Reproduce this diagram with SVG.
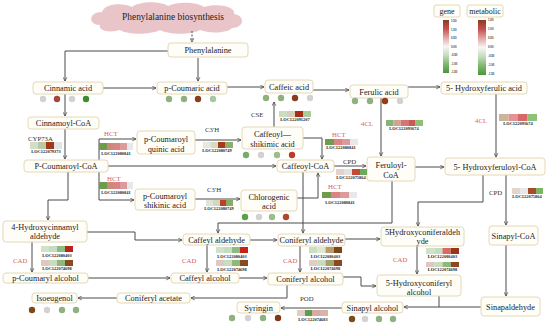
<svg xmlns="http://www.w3.org/2000/svg" width="550" height="325" viewBox="0 0 550 325">
<style>
.bx{fill:#fffdf7;stroke:#e4d8b6;stroke-width:1}
.n{font-family:"Liberation Serif","DejaVu Serif",serif;font-size:8.3px;fill:#222;text-anchor:middle}
.e{font-family:"Liberation Serif","DejaVu Serif",serif;font-size:6.8px;fill:#333}
.r{fill:#dd5c5c}
.loc{font-family:"Liberation Serif","DejaVu Serif",serif;font-size:4.4px;font-weight:bold;fill:#222;text-anchor:middle}
.tk{font-family:"Liberation Sans","DejaVu Sans",sans-serif;font-size:2.8px;font-weight:bold;fill:#333}
.c path{fill:none;stroke:#4a4a4a;stroke-width:1;marker-end:url(#ah)}
.c path.nm{marker-end:none}
.g{fill:#d2d2d2}.gg{fill:#8fb080}.gr{fill:#4f9a3e}.br{fill:#8b3c1a}.rd{fill:#bf3a26}
</style>
<defs>
<marker id="ah" viewBox="0 0 8 8" refX="7" refY="4" markerWidth="5" markerHeight="5" markerUnits="userSpaceOnUse" orient="auto">
<path d="M1,1 L7,4 L1,7" fill="none" stroke="#4a4a4a" stroke-width="1.2"/>
</marker>
<linearGradient id="lg" x1="0" y1="0" x2="0" y2="1">
<stop offset="0" stop-color="#8a3c1e"/>
<stop offset="0.17" stop-color="#c85050"/>
<stop offset="0.33" stop-color="#e4a4a4"/>
<stop offset="0.5" stop-color="#f6f6f6"/>
<stop offset="0.67" stop-color="#c2dcbc"/>
<stop offset="0.83" stop-color="#80b870"/>
<stop offset="1" stop-color="#4a963a"/>
</linearGradient>
</defs>
<rect width="550" height="325" fill="#ffffff"/>

<!-- cloud -->
<g id="phe-biosynthesis">
<path d="M100,25 C88,25 88,12 102,12 C104,4 122,2 132,7 C140,1 160,1 168,6 C178,1 198,2 204,7 C216,3 236,6 234,14 C246,16 244,28 232,28 C228,33 210,34 200,30 C190,35 170,35 160,30 C150,35 128,35 120,30 C110,33 98,31 100,25 Z" fill="#e9c5c9"/>
<text x="173" y="20" class="n" style="font-size:9.4px">Phenylalanine biosynthesis</text>
</g>

<!-- connectors -->
<g id="connectors" class="c">
<path d="M192,31 L192,42" stroke-dasharray="2,1.5"/>
<path d="M168,51 L65,51 L65,81"/>
<path d="M198,58 L198,81"/>
<path d="M103,88 L156,88"/>
<path d="M227,87 L264,87"/>
<path d="M313,90 L349,90"/>
<path d="M408,87 L440,87"/>
<path d="M65,94 L65,116"/>
<path d="M65,129 L65,159"/>
<path d="M99,160 L99,139 L136,139"/>
<path d="M99,172 L99,200 L134,200"/>
<path d="M108,166 L276,166"/>
<path d="M195,140 L241,140"/>
<path d="M195,199 L240,199"/>
<path d="M274,127 L274,102"/>
<path d="M303,138 L322,138 L322,159"/>
<path d="M297,198 L318,198 L318,173"/>
<path d="M334,166 L366,166"/>
<path d="M381,98 L381,156"/>
<path d="M415,167 L444,167"/>
<path d="M496,94 L496,157"/>
<path d="M506,175 L506,225"/>
<path d="M483,175 L483,202 L418,202 L418,226"/>
<path d="M392,181 L392,223 L218,223 L218,233"/>
<path d="M303,172 L303,233"/>
<path d="M68,172 L68,200 L48,200 L48,220"/>
<path d="M87,232 L135,232 L135,240 L182,240"/>
<path d="M250,240 L277,240"/>
<path d="M345,239 L380,239"/>
<path d="M32,242 L32,272"/>
<path d="M207,245 L207,272"/>
<path d="M300,246 L300,272"/>
<path d="M417,246 L417,274"/>
<path d="M88,278 L170,278"/>
<path d="M239,278 L267,278"/>
<path d="M343,277 L361,277 L361,286 L376,286"/>
<path d="M287,285 L287,298 L191,298"/>
<path d="M117,298 L78,298"/>
<path d="M506,245 L506,296"/>
<path d="M481,307 L404,307"/>
<path class="nm" d="M439,296 L439,307"/>
<path d="M342,308 L281,308"/>
</g>

<!-- legend -->
<g id="legend-gene">
<rect class="bx" x="434" y="5" width="26" height="12" rx="2"/>
<text x="447" y="14" class="n" style="font-size:8px">gene</text>
<rect x="443" y="20" width="6" height="53" fill="url(#lg)"/>
<g class="tk"><text x="451" y="22">1.50</text><text x="451" y="30.5">1.00</text><text x="451" y="39">0.50</text><text x="451" y="47.5">0.00</text><text x="451" y="56">-0.50</text><text x="451" y="64.5">-1.00</text><text x="451" y="73">-1.50</text></g>
</g>
<g id="legend-metabolic">
<rect class="bx" x="467" y="5" width="36" height="12" rx="2"/>
<text x="485" y="14" class="n" style="font-size:8px">metabolic</text>
<rect x="478" y="20" width="8" height="55" fill="url(#lg)"/>
<g class="tk"><text x="488" y="21">1.50</text><text x="488" y="30">1.00</text><text x="488" y="39">0.50</text><text x="488" y="48">0.00</text><text x="488" y="57">-0.50</text><text x="488" y="66">-1.00</text><text x="488" y="75">-1.50</text></g>
</g>

<!-- nodes -->
<g id="phenylalanine"><rect class="bx" x="168" y="43" width="80" height="14" rx="3"/><text class="n" x="208" y="53">Phenylalanine</text></g>
<g id="cinnamic-acid"><rect class="bx" x="33" y="82" width="70" height="12" rx="3"/><text class="n" x="68" y="91">Cinnamic acid</text>
<circle class="g" cx="43" cy="99" r="3.2"/><circle cx="57" cy="99" r="3.2" fill="#a5473a"/><circle class="g" cx="72" cy="99" r="3.2"/><circle cx="86" cy="99" r="3.2" fill="#3c8c2c"/></g>
<g id="p-coumaric-acid"><rect class="bx" x="157" y="82" width="70" height="12" rx="3"/><text class="n" x="192" y="91">p-Coumaric acid</text>
<circle class="gg" cx="169" cy="99" r="3.2"/><circle class="gg" cx="184" cy="99" r="3.2"/><circle class="br" cx="198" cy="99" r="3.2"/><circle cx="213" cy="99" r="3.2" fill="#a8c8a0"/></g>
<g id="caffeic-acid"><rect class="bx" x="265" y="80" width="48" height="13" rx="3"/><text class="n" x="289" y="89.5">Caffeic acid</text>
<circle class="gg" cx="266" cy="98" r="3.2"/><circle class="gg" cx="281" cy="98" r="3.2"/><circle class="br" cx="295" cy="98" r="3.2"/><circle class="g" cx="310" cy="98" r="3.2"/></g>
<g id="ferulic-acid"><rect class="bx" x="350" y="85" width="58" height="13" rx="3"/><text class="n" x="379" y="94.5">Ferulic acid</text>
<circle class="gg" cx="355" cy="101" r="3.2"/><circle class="gg" cx="370" cy="101" r="3.2"/><circle cx="385" cy="101" r="3.2" fill="#963a1a"/><circle class="g" cx="400" cy="101" r="3.2"/></g>
<g id="hydroxyferulic-acid"><rect class="bx" x="441" y="82" width="86" height="12" rx="3"/><text class="n" x="484" y="91">5- Hydroxyferulic acid</text></g>
<g id="cinnamoyl-coa"><rect class="bx" x="28" y="117" width="71" height="12" rx="3"/><text class="n" x="63.5" y="126">Cinnamoyl-CoA</text></g>
<g id="p-coumaroyl-coa"><rect class="bx" x="24" y="160" width="84" height="12" rx="3"/><text class="n" x="66" y="169">P-Coumaroyl-CoA</text></g>
<g id="p-coumaroyl-quinic-acid"><rect class="bx" x="137" y="131" width="58" height="23" rx="3"/><text class="n" x="166" y="141.5">p-Coumaroyl</text><text class="n" x="166" y="151.5">quinic acid</text></g>
<g id="caffeoyl-shikimic-acid"><rect class="bx" x="242" y="127" width="61" height="22" rx="3"/><text class="n" x="272.5" y="136.5">Caffeoyl—</text><text class="n" x="272.5" y="147">shikimic acid</text>
<circle cx="246" cy="155" r="3.2" fill="#7aaa6a"/><circle class="g" cx="261" cy="155" r="3.2"/><circle cx="277" cy="155" r="3.2" fill="#9cbc8c"/><circle class="rd" cx="292" cy="155" r="3.2"/></g>
<g id="caffeoyl-coa"><rect class="bx" x="277" y="160" width="57" height="12" rx="3"/><text class="n" x="305.5" y="169">Caffeoyl-CoA</text></g>
<g id="feruloyl-coa"><rect class="bx" x="367" y="157" width="48" height="24" rx="3"/><text class="n" x="391" y="167.5">Feruloyl-</text><text class="n" x="391" y="178">CoA</text></g>
<g id="hydroxyferuloyl-coa"><rect class="bx" x="445" y="158" width="100" height="17" rx="3"/><text class="n" x="495" y="169.5">5- Hydroxyferuloyl-CoA</text></g>
<g id="p-coumaroyl-shikinic-acid"><rect class="bx" x="135" y="189" width="60" height="21" rx="3"/><text class="n" x="165" y="198.5">p-Coumaroyl</text><text class="n" x="165" y="207.5">shikinic acid</text></g>
<g id="chlorogenic-acid"><rect class="bx" x="241" y="190" width="56" height="21" rx="3"/><text class="n" x="269" y="199.5">Chlorogenic</text><text class="n" x="269" y="209">acid</text>
<circle cx="245" cy="217" r="3.2" fill="#5aa04a"/><circle class="g" cx="259" cy="217" r="3.2"/><circle cx="272" cy="217" r="3.2" fill="#9cbc8c"/><circle cx="286" cy="217" r="3.2" fill="#b04828"/></g>
<g id="hydroxycinnamyl-aldehyde"><rect class="bx" x="3" y="221" width="84" height="21" rx="3"/><text class="n" x="45" y="230">4-Hydroxycinnamyl</text><text class="n" x="45" y="239">aldehyde</text></g>
<g id="caffeyl-aldehyde"><rect class="bx" x="183" y="234" width="67" height="11" rx="3"/><text class="n" x="216.5" y="242.5">Caffeyl aldehyde</text></g>
<g id="coniferyl-aldehyde"><rect class="bx" x="278" y="234" width="67" height="12" rx="3"/><text class="n" x="311.5" y="243">Coniferyl aldehyde</text></g>
<g id="hydroxyconiferaldehyde"><rect class="bx" x="381" y="227" width="83" height="19" rx="3"/><text class="n" x="422.5" y="234.5">5Hydroxyconiferaldeh</text><text class="n" x="422.5" y="244">yde</text></g>
<g id="sinapyl-coa"><rect class="bx" x="489" y="226" width="49" height="19" rx="3"/><text class="n" x="513.5" y="238.5">Sinapyl-CoA</text></g>
<g id="p-coumaryl-alcohol"><rect class="bx" x="3" y="273" width="85" height="10" rx="3"/><text class="n" x="45.5" y="281">p-Coumaryl alcohol</text></g>
<g id="caffeyl-alcohol"><rect class="bx" x="171" y="273" width="68" height="10" rx="3"/><text class="n" x="205" y="281">Caffeyl alcohol</text></g>
<g id="coniferyl-alcohol"><rect class="bx" x="268" y="273" width="75" height="12" rx="3"/><text class="n" x="305.5" y="282">Coniferyl alcohol</text></g>
<g id="hydroxyconiferyl-alcohol"><rect class="bx" x="377" y="275" width="84" height="21" rx="3"/><text class="n" x="419" y="285.5">5-Hydroxyconiferyl</text><text class="n" x="419" y="294.5">alcohol</text></g>
<g id="isoeugenol"><rect class="bx" x="32" y="293" width="45" height="10" rx="3"/><text class="n" x="54.5" y="301">Isoeugenol</text>
<circle cx="32" cy="310" r="3.2" fill="#7a4a1a"/><circle class="g" cx="47" cy="310" r="3.2"/><circle class="gg" cx="62" cy="310" r="3.2"/><circle class="gg" cx="76" cy="310" r="3.2"/></g>
<g id="coniferyl-acetate"><rect class="bx" x="117" y="293" width="73" height="10" rx="3"/><text class="n" x="153.5" y="301">Coniferyl acetate</text></g>
<g id="syringin"><rect class="bx" x="237" y="302" width="43" height="11" rx="3"/><text class="n" x="258.5" y="310.5">Syringin</text>
<circle class="gg" cx="232" cy="318" r="3.2"/><circle class="g" cx="248" cy="318" r="3.2"/><circle class="gg" cx="263" cy="318" r="3.2"/><circle cx="278" cy="318" r="3.2" fill="#7a3a12"/></g>
<g id="sinapyl-alcohol"><rect class="bx" x="342" y="302" width="61" height="11" rx="3"/><text class="n" x="372.5" y="310.5">Sinapyl alcohol</text>
<circle cx="352" cy="319" r="3.2" fill="#7a4a1a"/><circle class="g" cx="365" cy="319" r="3.2"/><circle class="gg" cx="379" cy="319" r="3.2"/><circle class="gg" cx="393" cy="319" r="3.2"/></g>
<g id="sinapaldehyde"><rect class="bx" x="481" y="297" width="59" height="19" rx="3"/><text class="n" x="510.5" y="309.5">Sinapaldehyde</text></g>

<!-- enzymes -->
<g id="enz-cyp73a"><text class="e" x="28" y="140.5">CYP73A</text>
<rect x="30" y="142" width="8" height="7" fill="#cfe0c8"/><rect x="38" y="142" width="8" height="7" fill="#b9c9a5"/><rect x="46" y="142" width="8" height="7" fill="#a2381a"/><rect x="54" y="142" width="8" height="7" fill="#e3e3e3"/>
<text class="loc" x="46" y="153">LOC122079373</text></g>
<g id="enz-hct-1"><text class="e r" x="104" y="135.5">HCT</text>
<rect x="99" y="143" width="8" height="7" fill="#6e9c4c"/><rect x="107" y="143" width="6" height="7" fill="#c98a7a"/><rect x="113" y="143" width="7" height="7" fill="#d98585"/><rect x="120" y="143" width="7" height="7" fill="#dc9a9a"/><rect x="127" y="143" width="6" height="7" fill="#e8e8e8"/>
<text class="loc" x="116" y="155">LOC122080841</text></g>
<g id="enz-hct-2"><text class="e r" x="107" y="180.5">HCT</text>
<rect x="99" y="182" width="8" height="7" fill="#6e9c4c"/><rect x="107" y="182" width="6" height="7" fill="#c98a7a"/><rect x="113" y="182" width="7" height="7" fill="#d98585"/><rect x="120" y="182" width="7" height="7" fill="#dc9a9a"/><rect x="127" y="182" width="6" height="7" fill="#e8e8e8"/>
<text class="loc" x="116" y="194">LOC122080841</text></g>
<g id="enz-c3h-1"><text class="e" x="205" y="131.5">C3'H</text>
<rect x="203" y="142" width="8" height="6" fill="#e6e8de"/><rect x="211" y="142" width="7" height="6" fill="#d4dcc4"/><rect x="218" y="142" width="7" height="6" fill="#a83a1c"/><rect x="225" y="142" width="8" height="6" fill="#8fae6a"/>
<text class="loc" x="217" y="151.5">LOC122080749</text></g>
<g id="enz-c3h-2"><text class="e" x="207" y="191.5">C3'H</text>
<rect x="206" y="200" width="7" height="6" fill="#e0e4d8"/><rect x="213" y="200" width="7" height="6" fill="#d0d8c0"/><rect x="220" y="200" width="6" height="6" fill="#b8402a"/><rect x="226" y="200" width="7" height="6" fill="#8aaa60"/>
<text class="loc" x="219" y="209.5">LOC122080749</text></g>
<g id="enz-cse"><text class="e" x="251" y="117">CSE</text>
<rect x="279" y="111" width="8" height="6" fill="#cbdcc0"/><rect x="287" y="111" width="8" height="6" fill="#d8cdb8"/><rect x="295" y="111" width="8" height="6" fill="#a82c12"/><rect x="303" y="111" width="8" height="6" fill="#a9cc98"/>
<text class="loc" x="295" y="121">LOC122091207</text></g>
<g id="enz-hct-3"><text class="e r" x="332" y="136.5">HCT</text>
<rect x="325" y="139" width="9" height="6" fill="#6e9c4c"/><rect x="334" y="139" width="8" height="6" fill="#d98585"/><rect x="342" y="139" width="8" height="6" fill="#dc9a9a"/><rect x="350" y="139" width="8" height="6" fill="#e8e8e8"/>
<text class="loc" x="341" y="149">LOC122080841</text></g>
<g id="enz-cpd-1"><text class="e" x="343" y="163.5">CPD</text>
<rect x="336" y="169" width="8" height="6" fill="#e6d0cc"/><rect x="344" y="169" width="8" height="6" fill="#e2e2e2"/><rect x="352" y="169" width="8" height="6" fill="#c44a3a"/><rect x="360" y="169" width="7" height="6" fill="#6fa85a"/>
<text class="loc" x="351" y="179">LOC122075864</text></g>
<g id="enz-hct-4"><text class="e r" x="328" y="188.5">HCT</text>
<rect x="322" y="192" width="9" height="6" fill="#6e9c4c"/><rect x="331" y="192" width="9" height="6" fill="#d98585"/><rect x="340" y="192" width="9" height="6" fill="#dc9a9a"/><rect x="349" y="192" width="8" height="6" fill="#e8e8e8"/>
<text class="loc" x="340" y="203.5">LOC122080841</text></g>
<g id="enz-4cl-1"><text class="e r" x="361" y="125.5">4CL</text>
<rect x="386" y="120" width="7.4" height="6" fill="#85b573"/><rect x="393.4" y="120" width="7.4" height="6" fill="#cfa58f"/><rect x="400.8" y="120" width="7.4" height="6" fill="#d77575"/><rect x="408.2" y="120" width="7.4" height="6" fill="#c65a55"/><rect x="415.6" y="120" width="7.4" height="6" fill="#8cc075"/>
<text class="loc" x="404" y="130">LOC122093674</text></g>
<g id="enz-4cl-2"><text class="e r" x="475" y="122.5">4CL</text>
<rect x="499" y="114" width="9.5" height="7" fill="#c9b59a"/><rect x="508.5" y="114" width="9.5" height="7" fill="#e39393"/><rect x="518" y="114" width="9.5" height="7" fill="#d86868"/><rect x="527.5" y="114" width="9.5" height="7" fill="#90c07a"/>
<text class="loc" x="518" y="125">LOC122093674</text></g>
<g id="enz-cpd-2"><text class="e" x="489" y="194.5">CPD</text>
<rect x="512" y="188" width="8" height="6" fill="#e4d4cc"/><rect x="520" y="188" width="8" height="6" fill="#e8e8e8"/><rect x="528" y="188" width="8" height="6" fill="#a84a2e"/><rect x="536" y="188" width="7" height="6" fill="#7ab465"/>
<text class="loc" x="527" y="198">LOC122075864</text></g>
<g id="enz-cad-1"><text class="e r" x="13" y="262.5">CAD</text>
<rect x="41" y="246" width="8" height="6" fill="#d0e2c8"/><rect x="49" y="246" width="8" height="6" fill="#c4dcc0"/><rect x="57" y="246" width="8" height="6" fill="#8cbc80"/><rect x="65" y="246" width="8" height="6" fill="#b82418"/>
<text class="loc" x="57" y="257">LOC122080403</text>
<rect x="41" y="260" width="8" height="6" fill="#e0c8c0"/><rect x="49" y="260" width="8" height="6" fill="#c8dcc0"/><rect x="57" y="260" width="8" height="6" fill="#90b878"/><rect x="65" y="260" width="8" height="6" fill="#8a4a20"/>
<text class="loc" x="57" y="270">LOC122074698</text></g>
<g id="enz-cad-2"><text class="e r" x="182" y="262.5">CAD</text>
<rect x="216" y="247" width="8" height="6" fill="#d0e2c8"/><rect x="224" y="247" width="8" height="6" fill="#c4dcc0"/><rect x="232" y="247" width="8" height="6" fill="#8cbc80"/><rect x="240" y="247" width="8" height="6" fill="#c42418"/>
<text class="loc" x="232" y="257.5">LOC122080403</text>
<rect x="216" y="260" width="8" height="6" fill="#e0c8c0"/><rect x="224" y="260" width="8" height="6" fill="#c8dcc0"/><rect x="232" y="260" width="8" height="6" fill="#90b878"/><rect x="240" y="260" width="8" height="6" fill="#8a4a20"/>
<text class="loc" x="232" y="270.5">LOC122074698</text></g>
<g id="enz-cad-3"><text class="e r" x="283" y="262.5">CAD</text>
<rect x="309" y="247" width="8.25" height="6" fill="#c8e0c0"/><rect x="317.25" y="247" width="8.25" height="6" fill="#dce8d4"/><rect x="325.5" y="247" width="8.25" height="6" fill="#b89a70"/><rect x="333.75" y="247" width="8.25" height="6" fill="#7a4818"/>
<text class="loc" x="325.5" y="257.5">LOC122080403</text>
<rect x="309" y="260" width="8.25" height="6" fill="#e0cec6"/><rect x="317.25" y="260" width="8.25" height="6" fill="#c8dcc0"/><rect x="325.5" y="260" width="8.25" height="6" fill="#a8a070"/><rect x="333.75" y="260" width="8.25" height="6" fill="#8a4a20"/>
<text class="loc" x="325.5" y="270">LOC122074698</text></g>
<g id="enz-cad-4"><text class="e r" x="393" y="261.5">CAD</text>
<rect x="426" y="248" width="8.25" height="6" fill="#d0e2c8"/><rect x="434.25" y="248" width="8.25" height="6" fill="#c4dcc0"/><rect x="442.5" y="248" width="8.25" height="6" fill="#d86a60"/><rect x="450.75" y="248" width="8.25" height="6" fill="#9a3418"/>
<text class="loc" x="442.5" y="258">LOC122080403</text>
<rect x="426" y="262" width="8.25" height="5" fill="#e0c8c0"/><rect x="434.25" y="262" width="8.25" height="5" fill="#c8dcc0"/><rect x="442.5" y="262" width="8.25" height="5" fill="#90b878"/><rect x="450.75" y="262" width="8.25" height="5" fill="#8a4a20"/>
<text class="loc" x="442.5" y="271">LOC122074698</text></g>
<g id="enz-pod"><text class="e" x="300" y="300.5">POD</text>
<rect x="297" y="310" width="8" height="6" fill="#e6cbc5"/><rect x="305" y="310" width="7" height="6" fill="#5aa04a"/><rect x="312" y="310" width="8" height="6" fill="#d8aaa2"/><rect x="320" y="310" width="8" height="6" fill="#d9b3aa"/>
<text class="loc" x="313" y="321">LOC122074683</text></g>
</svg>
